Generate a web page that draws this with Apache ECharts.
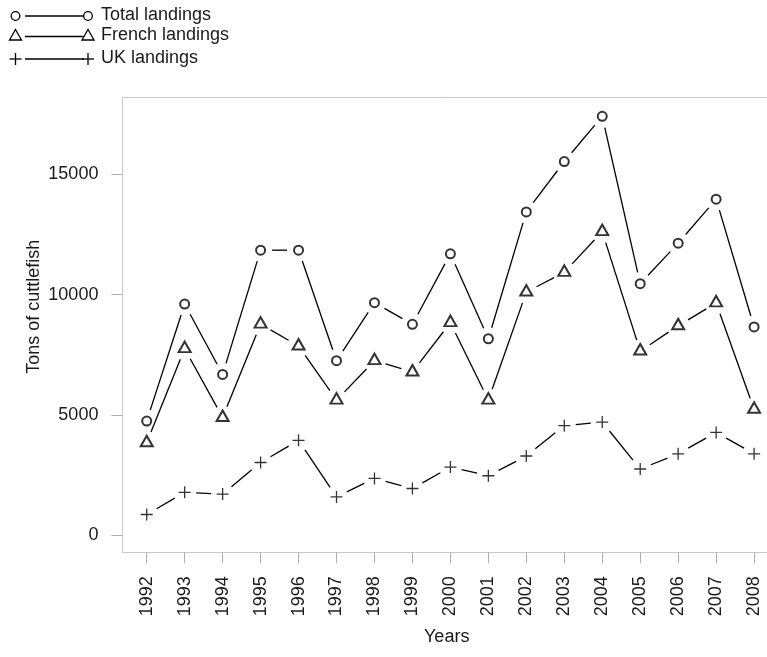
<!DOCTYPE html>
<html>
<head>
<meta charset="utf-8">
<script src="https://cdn.jsdelivr.net/npm/echarts@6/dist/echarts.min.js"></script>
<style>
  html, body { margin: 0; padding: 0; background: #fff; }
  #chart-container { width: 767px; height: 657px; }
</style>
</head>
<body>
<div id="chart-container"></div>
<script>
const years = [1992, 1993, 1994, 1995, 1996, 1997, 1998, 1999, 2000, 2001, 2002, 2003, 2004, 2005, 2006, 2007, 2008];
const totalLandings = [4750, 9610, 6690, 11850, 11850, 7260, 9670, 8770, 11700, 8170, 13440, 15530, 17410, 10460, 12140, 13970, 8660];
const frenchLandings = [3850, 7760, 4900, 8780, 7870, 5620, 7260, 6790, 8840, 5620, 10110, 10930, 12620, 7660, 8710, 9660, 5240];
const ukLandings = [870, 1790, 1720, 3030, 3950, 1600, 2370, 1950, 2840, 2480, 3300, 4560, 4710, 2760, 3390, 4280, 3390];
const yTicks = [0, 5000, 10000, 15000];

const font = "Liberation Sans";
const textColor = "#1a1a1a";
const boxColor = "#c8c8c8";
const gap = 11.5; // R type="b" leaves a hole round every point

// the R plot box runs past the right edge of the picture,
// so the x range is cut where the canvas ends
const xMin = 1991.36;
const xMax = 2008.34;

const segments = (values) => {
  let out = [];
  for (let i = 0; i < years.length - 1; i++) {
    out.push([years[i], values[i], years[i + 1], values[i + 1]]);
  }
  return out;
};

function renderSegment(params, api) {
  let p1 = api.coord([api.value(0), api.value(1)]);
  let p2 = api.coord([api.value(2), api.value(3)]);
  let dx = p2[0] - p1[0];
  let dy = p2[1] - p1[1];
  let len = Math.sqrt(dx * dx + dy * dy);
  if (len <= 2 * gap) return;
  let ux = dx / len;
  let uy = dy / len;
  return {
    type: "line",
    shape: {
      x1: p1[0] + ux * gap,
      y1: p1[1] + uy * gap,
      x2: p2[0] - ux * gap,
      y2: p2[1] - uy * gap,
    },
    style: { stroke: "#000", lineWidth: 1.3 },
  };
}

const lineSeries = (values) => ({
  type: "custom",
  renderItem: renderSegment,
  data: segments(values),
  encode: { x: [0, 2], y: [1, 3] },
  silent: true,
  z: 2,
});

const pointSeries = (values, symbol, size, offset) => ({
  type: "scatter",
  data: years.map((y, i) => [y, values[i]]),
  symbol: symbol,
  symbolSize: size,
  symbolOffset: offset || [0, 0],
  itemStyle: { color: "#000", borderColor: "#000", borderWidth: 1.3 },
  silent: true,
  z: 3,
});

const plusPath = "path://M0,6L12,6M6,0L6,12";

// legend, drawn like R's legend()
const legendRows = [16, 36.5, 59];
let legendItems = [];
legendRows.forEach((y, k) => {
  legendItems.push({
    type: "line",
    shape: { x1: 25, y1: y, x2: 84, y2: y },
    style: { stroke: "#000", lineWidth: 1.3 },
  });
  [15.5, 88].forEach((x) => {
    if (k == 0) {
      legendItems.push({
        type: "circle",
        shape: { cx: x, cy: y, r: 4.3 },
        style: { fill: "#fff", stroke: "#000", lineWidth: 1.3 },
      });
    } else if (k == 1) {
      legendItems.push({
        type: "polygon",
        shape: { points: [[x, y - 7], [x + 6, y + 3.5], [x - 6, y + 3.5]] },
        style: { fill: "#fff", stroke: "#000", lineWidth: 1.3 },
      });
    } else {
      legendItems.push({
        type: "polyline",
        shape: { points: [[x - 6, y], [x + 6, y]] },
        style: { stroke: "#000", lineWidth: 1.3 },
      });
      legendItems.push({
        type: "polyline",
        shape: { points: [[x, y - 6], [x, y + 6]] },
        style: { stroke: "#000", lineWidth: 1.3 },
      });
    }
  });
});
const legendNames = ["Total landings", "French landings", "UK landings"];
legendNames.forEach((name, k) => {
  legendItems.push({
    type: "text",
    x: 101,
    y: legendRows[k] - 1,
    style: {
      text: name,
      fontSize: 18,
      fontFamily: font,
      fill: textColor,
      textAlign: "left",
      textVerticalAlign: "middle",
    },
  });
});

let dom = document.getElementById("chart-container");
let myChart = echarts.init(dom, null, { renderer: "canvas" });

let option = {
  animation: false,
  backgroundColor: "#fff",
  grid: {
    left: 122.4,
    top: 97.3,
    bottom: 104.7,
    right: 0,
    show: false,
  },
  xAxis: [
    {
      type: "value",
      min: xMin,
      max: xMax,
      axisLine: { show: true, onZero: false, lineStyle: { color: boxColor, width: 1 } },
      splitLine: { show: false },
      axisTick: {
        show: true,
        customValues: years,
        length: 11,
        lineStyle: { color: "#b0b0b0", width: 1 },
      },
      axisLabel: {
        customValues: years,
        formatter: (v) => String(v),
        rotate: 90,
        margin: 24,
        fontSize: 18,
        fontFamily: font,
        color: textColor,
      },
    },
    {
      // top side of the box
      type: "value",
      position: "top",
      min: xMin,
      max: xMax,
      axisLine: { show: true, onZero: false, lineStyle: { color: boxColor, width: 1 } },
      axisTick: { show: false },
      axisLabel: { show: false },
      splitLine: { show: false },
    },
  ],
  yAxis: {
    type: "value",
    min: -700,
    max: 18200,
    axisLine: { show: true, onZero: false, lineStyle: { color: boxColor, width: 1 } },
    splitLine: { show: false },
    axisTick: {
      show: true,
      customValues: yTicks,
      length: 11,
      lineStyle: { color: "#b0b0b0", width: 1 },
    },
    axisLabel: {
      customValues: yTicks,
      formatter: (v) => String(v),
      margin: 24,
      fontSize: 18,
      fontFamily: font,
      color: textColor,
    },
  },
  graphic: legendItems.concat([
    {
      type: "text",
      x: 34.5,
      y: 306.7,
      rotation: Math.PI / 2,
      style: {
        text: "Tons of cuttlefish",
        fontSize: 18,
        fontFamily: font,
        fill: textColor,
        textAlign: "center",
        textVerticalAlign: "middle",
      },
    },
    {
      type: "text",
      x: 446.7,
      y: 637,
      style: {
        text: "Years",
        fontSize: 18,
        fontFamily: font,
        fill: textColor,
        textAlign: "center",
        textVerticalAlign: "middle",
      },
    },
  ]),
  series: [
    lineSeries(totalLandings),
    lineSeries(frenchLandings),
    lineSeries(ukLandings),
    pointSeries(totalLandings, "emptyCircle", 9),
    pointSeries(frenchLandings, "emptyTriangle", [12, 10.5], [0, -1.75]),
    pointSeries(ukLandings, plusPath, 12),
  ],
};

if (option && typeof option === "object") {
  myChart.setOption(option);
}
window.addEventListener("resize", myChart.resize);
</script>
</body>
</html>
